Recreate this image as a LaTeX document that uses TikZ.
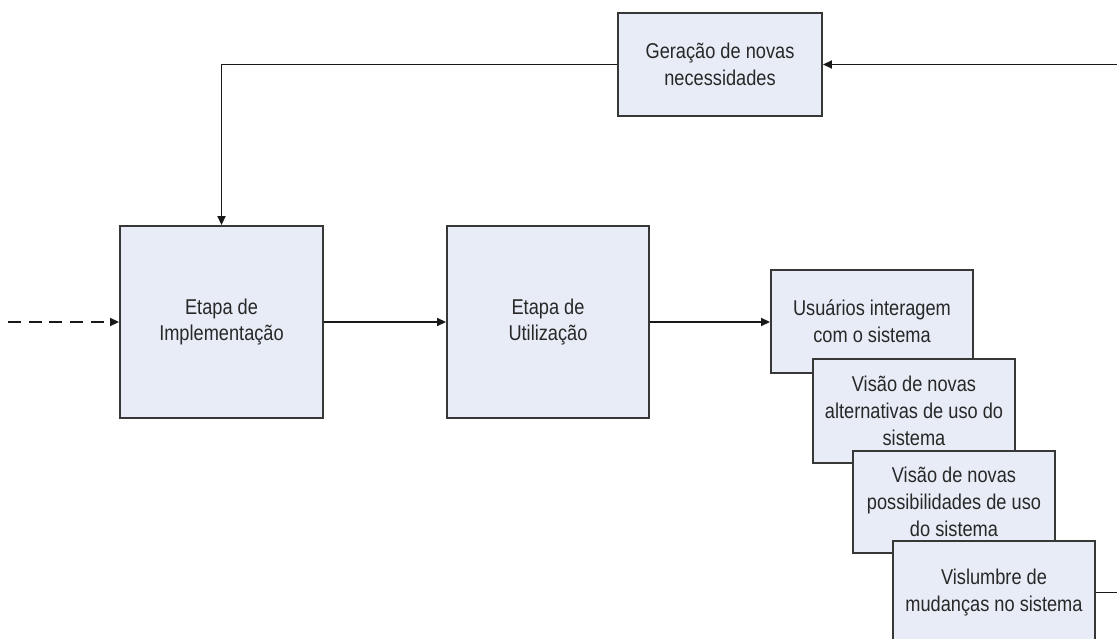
\documentclass[tikz,border=0pt]{standalone}
\usepackage{fontspec}
\setmainfont[FakeStretch=0.85]{Liberation Sans}
\usetikzlibrary{arrows.meta}
\definecolor{boxfill}{RGB}{231,236,246}
\definecolor{boxline}{RGB}{55,55,55}
\definecolor{txt}{RGB}{40,40,40}
\begin{document}
\begin{tikzpicture}[x=1bp,y=-1bp,
  blockbox/.style={draw=boxline,fill=boxfill,line width=1.9bp,rectangle,
    inner sep=0pt,align=center,text=txt,
    font=\fontsize{21.5}{27}\selectfont},
  flow/.style={draw=black!90,line width=1.8bp,
    -{Triangle[length=9bp,width=8bp]}},
  plain/.style={draw=black!90,line width=1.8bp}]
\useasboundingbox (0,0) rectangle (1117,639);

% main stages
\node[blockbox,minimum width=204bp,minimum height=103bp] (gen) at (720,64.5)
  {Geração de novas\\necessidades};
\node[blockbox,minimum width=203bp,minimum height=192bp] (impl) at (221.5,322)
  {Etapa de\\Implementação};
\node[blockbox,minimum width=202bp,minimum height=192bp] (util) at (548,322)
  {Etapa de\\Utilização};

% stacked outcome boxes, each drawn over the previous one
\node[blockbox,minimum width=202bp,minimum height=103bp] (usu) at (872,321.5)
  {Usuários interagem\\com o sistema};
\node[blockbox,minimum width=202bp,minimum height=104bp] (alt) at (914,411)
  {Visão de novas\\alternativas de uso do\\sistema};
\node[blockbox,minimum width=202bp,minimum height=102bp] (poss) at (954,502)
  {Visão de novas\\possibilidades de uso\\do sistema};
\node[blockbox,minimum width=202bp,minimum height=103bp] (vis) at (994,592.5)
  {Vislumbre de\\mudanças no sistema};

% free ends of the connectors
\coordinate (inlet) at (8,322);
\coordinate (feedin) at (1117,64.5);
\coordinate (feedout) at (1117,592.5);

% connectors
\draw[flow,dash pattern=on 13bp off 7.7bp] (inlet) -- (impl.west);
\draw[flow] (impl.east) -- (util.west);
\draw[flow] (util.east) -- (util.east -| usu.west);
\draw[flow] (gen.west) -| (impl.north);
\draw[flow] (feedin) -- (gen.east);
\draw[plain] (vis.east) -- (feedout);
\end{tikzpicture}
\end{document}
